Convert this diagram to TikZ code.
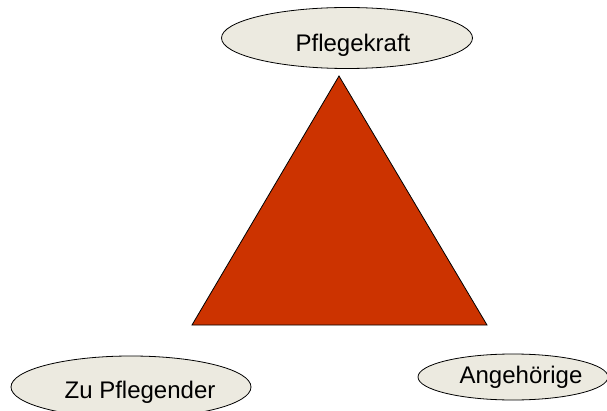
\documentclass[tikz,border=0pt]{standalone}
\usepackage{fontspec}
\setmainfont{Liberation Sans}
\usetikzlibrary{shapes.geometric}

\definecolor{rolle}{RGB}{236,234,224}
\definecolor{dreieck}{RGB}{204,51,0}
% Text im Oval leicht versetzt, ohne die Ovalgroesse zu aendern
\newcommand{\rollentext}[3]{\raisebox{#2}[0pt][0pt]{\makebox[0pt]{\hspace*{#1}#3}}}

\begin{document}
\begin{tikzpicture}[x=1pt,y=-1pt,
    rollenfeld/.style={ellipse,draw=black,fill=rolle,line width=0.8pt,inner sep=0pt,
      font=\fontsize{24}{28}\selectfont}]
  \useasboundingbox (0,0) rectangle (607,411);
  % Dreieck
  \filldraw[fill=dreieck,draw=black,line width=0.8pt]
    (339,76) -- (487,325) -- (192,325) -- cycle;
  % Rollen
  \node (pk) [rollenfeld,minimum width=251pt,minimum height=61pt] at (347,38)
    {\rollentext{12pt}{-13.6pt}{Pflegekraft}};
  \node (zp) [rollenfeld,minimum width=240pt,minimum height=62pt] at (131,387)
    {\rollentext{18pt}{-11.6pt}{Zu Pflegender}};
  \node (ag) [rollenfeld,minimum width=190pt,minimum height=46pt] at (513,377)
    {\rollentext{16pt}{-6.6pt}{Angehörige}};
\end{tikzpicture}
\end{document}
